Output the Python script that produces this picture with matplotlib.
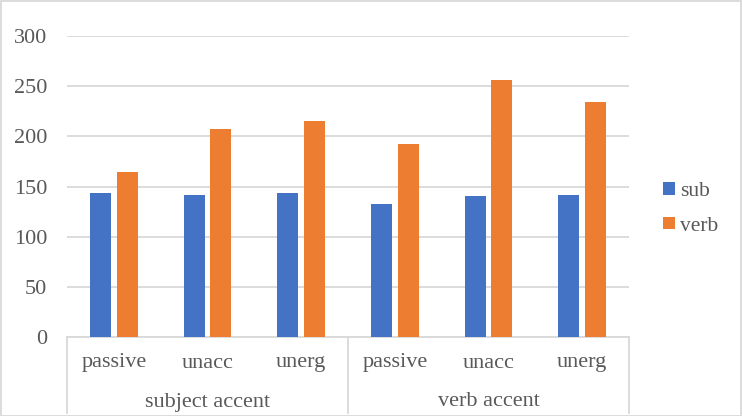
import matplotlib
matplotlib.use("Agg")
import matplotlib.pyplot as plt
import matplotlib.transforms as mtransforms
from matplotlib.patches import Rectangle
import numpy as np

groups = ["subject accent", "verb accent"]
conditions = ["passive", "unacc", "unerg", "passive", "unacc", "unerg"]
sub_vals = [144, 142, 144, 133, 141, 142]
verb_vals = [164, 207, 215, 192, 256, 234]
series_names = ["sub", "verb"]
yticks = [0, 50, 100, 150, 200, 250, 300]

plt.rcParams['font.family'] = ['Liberation Serif', 'DejaVu Serif']
txt = '#595959'
grid_c = '#d9d9d9'
blue = '#4472c4'
orange = '#ed7d31'
fs = 16
fs_leg = 15.5

fig = plt.figure(figsize=(7.42, 4.16), dpi=100)
ax = fig.add_axes([67/742, (416-337)/416, (629-67)/742, 301/416])

x = np.arange(len(conditions))
w = 0.224
off = 0.143
ax.bar(x - off, sub_vals, width=w, color=blue, label=series_names[0], zorder=3)
ax.bar(x + off, verb_vals, width=w, color=orange, label=series_names[1], zorder=3)

ax.set_xlim(-0.5, len(conditions) - 0.5)
ax.set_ylim(0, 300)
ax.set_yticks(yticks)
ax.set_yticklabels([str(v) for v in yticks], fontsize=fs, color=txt)
ax.tick_params(axis='y', length=0, pad=14.4)
ax.set_xticks([])
ax.grid(axis='y', color=grid_c, linewidth=1.3, zorder=0)
for s in ['top', 'right', 'left']:
    ax.spines[s].set_visible(False)
ax.spines['bottom'].set_color(grid_c)
ax.spines['bottom'].set_linewidth(1.3)

trans = mtransforms.blended_transform_factory(ax.transData, ax.transAxes)
bottom_ax = -(413 - 337) / 301
for b in [-0.5, 2.5, 5.5]:
    ax.plot([b, b], [0, bottom_ax], transform=trans, color=grid_c, lw=1.3, clip_on=False)

lvl1_y = -(363 - 337) / 301
lvl2_y = -(402 - 337) / 301
for i, c in enumerate(conditions):
    ax.text(i, lvl1_y, c, transform=trans, ha='center', va='center', fontsize=fs, color=txt)
for j, g in enumerate(groups):
    ax.text(3 * j + 1, lvl2_y, g, transform=trans, ha='center', va='center', fontsize=fs, color=txt)

leg = fig.legend(loc='center left', bbox_to_anchor=(644/742, (416-209)/416), frameon=False,
                 fontsize=fs_leg, handlelength=0.52, handleheight=0.52, handletextpad=0.25,
                 labelspacing=0.72, labelcolor=txt)

fig.patches.append(Rectangle((0.5/742, 0.5/416), 740.5/742, 414.5/416, transform=fig.transFigure,
                             fill=False, edgecolor='#d9d9d9', linewidth=1.3))

fig.savefig("out.png", dpi=100)
